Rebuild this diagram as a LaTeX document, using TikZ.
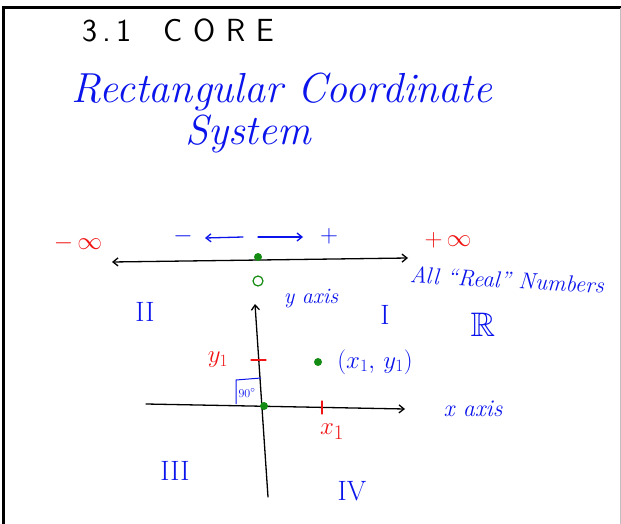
\documentclass[tikz,border=0pt]{standalone}
\usepackage{amsmath,amssymb}
\usepackage{tikz}
\usetikzlibrary{arrows.meta,positioning}
\usepackage{xcolor}
\definecolor{inkblue}{RGB}{10,20,235}
\definecolor{inkred}{RGB}{240,20,20}
\definecolor{inkgreen}{RGB}{20,140,20}
\newcommand{\penfont}[1]{\fontsize{#1}{#1}\selectfont}

\begin{document}
\begin{tikzpicture}[x=1pt,y=-1pt,>={Straight Barb[length=5pt,width=8pt]},
    pen/.style={line width=1.3pt,line cap=round},
    bluetxt/.style={text=inkblue,inner sep=0pt},
    redtxt/.style={text=inkred,inner sep=0pt},
    numeral/.style={text=inkblue,inner sep=0pt,font=\penfont{28}},
    greendot/.style={circle,fill=inkgreen,inner sep=0pt,minimum size=8pt}]
  \useasboundingbox (0,0) rectangle (621,524);
  % page edge
  \draw[line width=3pt] (3,524) -- (3,8) -- (621,8);
  \draw[gray!50,line width=0.8pt] (620,8) -- (620,524);

  % heading
  \node[inner sep=0pt,font=\sffamily\penfont{32}] (title) at (178,30) {3\,.\,1\quad C\,\,O\,\,R\,\,E};
  \node[bluetxt,font=\itshape\penfont{42}] (head1) at (282,92) {Rectangular Coordinate};
  \node[bluetxt,font=\itshape\penfont{42}] (head2) at (248,134) {System};

  % number line
  \coordinate (nlleft) at (112,262);
  \coordinate (nlright) at (408,258);
  \draw[pen,<->] (nlleft) -- (nlright);
  \node[greendot] (zero) at (258,257) {};
  \node[circle,draw=inkgreen,line width=1.2pt,inner sep=0pt,minimum size=10pt] (zerolbl) at (258,281) {};
  \node[redtxt,font=\penfont{24}] (minf) at (78,243) {$-\,\infty$};
  \node[redtxt,font=\penfont{24}] (pinf) at (448,240) {$+\,\infty$};
  \node[bluetxt,font=\penfont{24}] (neg) at (183,236) {$-$};
  \node[bluetxt,font=\penfont{24}] (pos) at (329,236) {$+$};
  \coordinate (larrs) at (243,237);
  \coordinate (larre) at (205,238);
  \coordinate (rarrs) at (258,237);
  \coordinate (rarre) at (303,237);
  \draw[inkblue,pen,->] (larrs) -- (larre);
  \draw[inkblue,pen,->] (rarrs) -- (rarre);
  \node[bluetxt,font=\itshape\penfont{23},rotate=-3] (reals) at (507,280) {All ``Real'' Numbers};
  \node[bluetxt,font=\penfont{34}] (realset) at (483,325) {$\mathbb{R}$};

  % quadrant numerals
  \node[numeral] (q2) at (145,312) {II};
  \node[numeral] (q1) at (385,315) {I};
  \node[numeral] (q3) at (175,471) {III};
  \node[numeral] (q4) at (352,491) {IV};

  % axes
  \coordinate (ybot) at (268,497);
  \coordinate (ytop) at (255,304);
  \coordinate (xleft) at (146,404);
  \coordinate (xright) at (405,409);
  \draw[pen,->] (ybot) -- (ytop);
  \draw[pen,->] (xleft) -- (xright);
  \node[bluetxt,font=\itshape\penfont{22}] (ylbl) at (311,299) {y axis};
  \node[bluetxt,font=\itshape\penfont{24}] (xlbl) at (473,409) {x axis};
  \node[greendot] (origin) at (264,406) {};

  % right angle
  \coordinate (ra1) at (236,404);
  \coordinate (ra2) at (236,380);
  \coordinate (ra3) at (261,378);
  \draw[inkblue,line width=1pt] (ra1) -- (ra2) -- (ra3);
  \node[bluetxt,font=\penfont{13}] (ninety) at (247,393) {$90^{\circ}$};

  % point and ticks
  \coordinate (ytickl) at (251,360);
  \coordinate (ytickr) at (266,360);
  \draw[inkred,pen] (ytickl) -- (ytickr);
  \node[redtxt,font=\penfont{24}] (ylbl1) at (218,360) {$y_1$};
  \coordinate (xtickt) at (322,401);
  \coordinate (xtickb) at (322,414);
  \draw[inkred,pen] (xtickt) -- (xtickb);
  \node[redtxt,font=\penfont{28}] (xlbl1) at (332,432) {$x_1$};
  \node[greendot] (pt) at (318,362) {};
  \node[bluetxt,font=\penfont{24}] (ptlbl) at (375,362) {$(x_1,\,y_1)$};
\end{tikzpicture}
\end{document}
